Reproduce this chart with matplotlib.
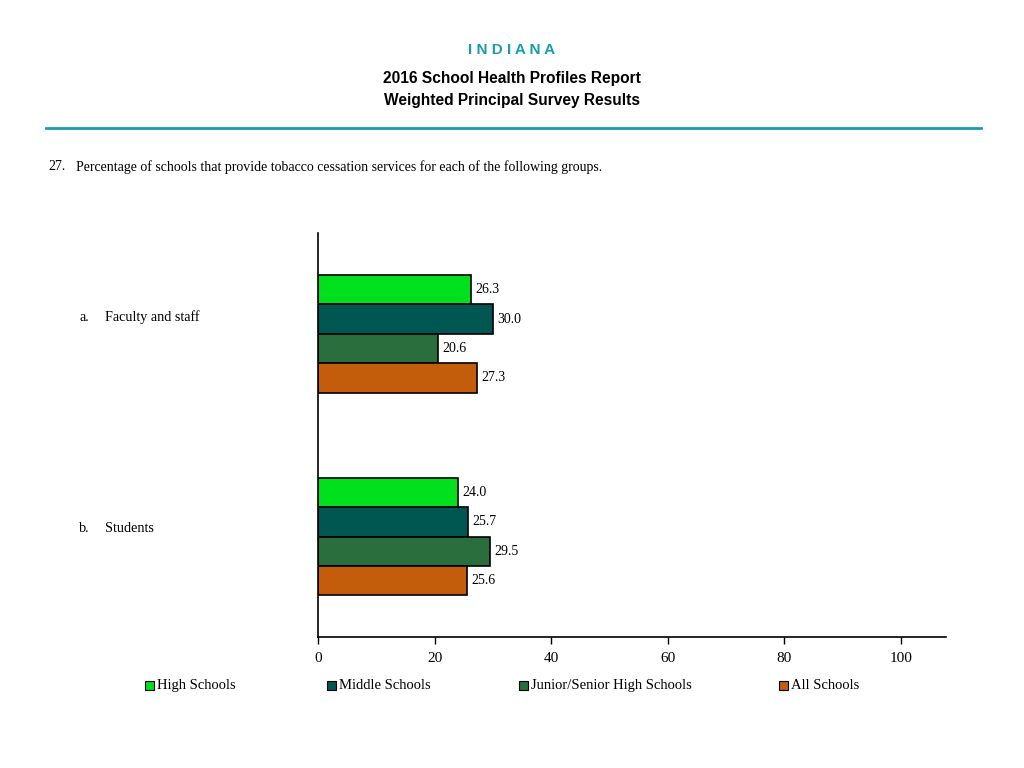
import matplotlib.pyplot as plt
import numpy as np
from matplotlib.patches import Rectangle

categories = ['Faculty and staff', 'Students']
cat_letters = ['a.', 'b.']
series = ['High Schools', 'Middle Schools', 'Junior/Senior High Schools', 'All Schools']
values = [
    [26.3, 24.0],   # High Schools
    [30.0, 25.7],   # Middle Schools
    [20.6, 29.5],   # Junior/Senior High Schools
    [27.3, 25.6],   # All Schools
]
colors = ['#00e01c', '#005752', '#2b6e3d', '#c35d0c']
xticks = [0, 20, 40, 60, 80, 100]

SERIF = 'Liberation Serif'
SANS = 'Liberation Sans'
TEAL = '#1a9cb0'

fig = plt.figure(figsize=(10.24, 7.68), dpi=100)

# header
fig.text(0.5, 1 - 50 / 768, 'I N D I A N A', ha='center', va='center',
         fontsize=11, fontweight='bold', color=TEAL, family=SANS)
fig.text(0.5, 1 - 79 / 768, '2016 School Health Profiles Report', ha='center', va='center',
         fontsize=11.2, fontweight='bold', family=SANS)
fig.text(0.5, 1 - 101 / 768, 'Weighted Principal Survey Results', ha='center', va='center',
         fontsize=11.2, fontweight='bold', family=SANS)
fig.add_artist(plt.Line2D([46 / 1024, 981 / 1024], [1 - 128 / 768] * 2, color=TEAL, lw=2))

fig.text(48 / 1024, 1 - 167 / 768, '27.', ha='left', va='center', fontsize=10, family=SERIF)
fig.text(76 / 1024, 1 - 167 / 768,
         'Percentage of schools that provide tobacco cessation services for each of the following groups.',
         ha='left', va='center', fontsize=10, family=SERIF)

ax = fig.add_axes([318 / 1024, 1 - 637 / 768, 628 / 1024, 404 / 768])

n = len(series)
h = 0.145
y = np.arange(len(categories))
for i, (name, vals, c) in enumerate(zip(series, values, colors)):
    pos = y + (i - (n - 1) / 2) * h
    ax.barh(pos, vals, height=h, color=c, edgecolor='black', linewidth=1.2, label=name)
    for p, v in zip(pos, vals):
        ax.text(v + 0.7, p, f'{v:.1f}', ha='left', va='center', fontsize=10, family=SERIF)

ax.set_xlim(0, 107.7)
ax.set_ylim(1.495, -0.497)
ax.set_xticks(xticks)
ax.set_xticklabels([str(t) for t in xticks], family=SERIF, fontsize=11)
ax.set_yticks([])
ax.spines['top'].set_visible(False)
ax.spines['right'].set_visible(False)
ax.spines['left'].set_linewidth(1.2)
ax.spines['bottom'].set_linewidth(1.2)
ax.tick_params(axis='x', length=5, width=1, pad=6)

# category labels sit a little above the group centres in the original
label_y = [317, 529]
for ly, letter, cat in zip(label_y, cat_letters, categories):
    fig.text(79 / 1024, 1 - ly / 768, letter, ha='left', va='center', fontsize=10.2, family=SERIF)
    fig.text(105 / 1024, 1 - ly / 768, cat, ha='left', va='center', fontsize=10.2, family=SERIF)

# legend
leg_x = [145, 327, 519, 779]
for lx, name, c in zip(leg_x, series, colors):
    fig.add_artist(Rectangle((lx / 1024, 1 - 690 / 768), 9 / 1024, 9 / 768,
                             facecolor=c, edgecolor='black', linewidth=0.8,
                             transform=fig.transFigure))
    fig.text((lx + 12) / 1024, 1 - 689 / 768, name, ha='left', va='baseline',
             fontsize=10.5, family=SERIF)

fig.savefig('out.png', dpi=100, facecolor='white')
